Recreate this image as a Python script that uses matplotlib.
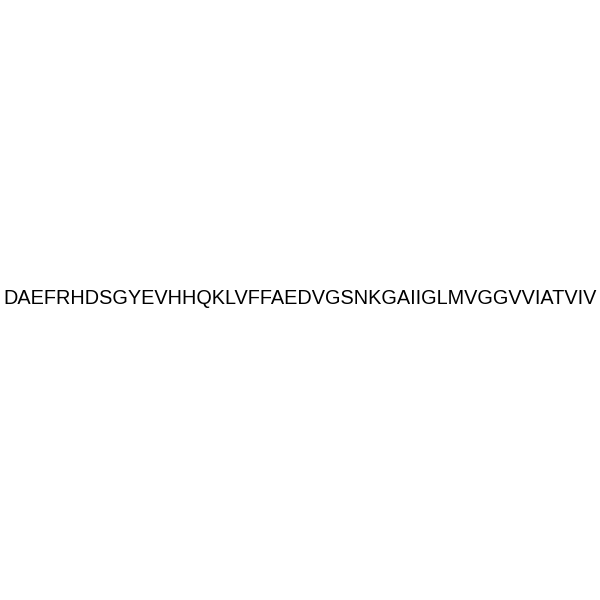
import matplotlib
matplotlib.use('Agg')
import matplotlib.pyplot as plt

sequence = 'DAEFRHDSGYEVHHQKLVFFAEDVGSNKGAIIGLMVGGVVIATVIV'

fig = plt.figure(figsize=(6, 6), dpi=100)
fig.text(0.5, 0.502, sequence, ha='center', va='center',
         fontsize=14.35, family='Liberation Sans', color='black')
fig.savefig('out.png', dpi=100, facecolor='white')
